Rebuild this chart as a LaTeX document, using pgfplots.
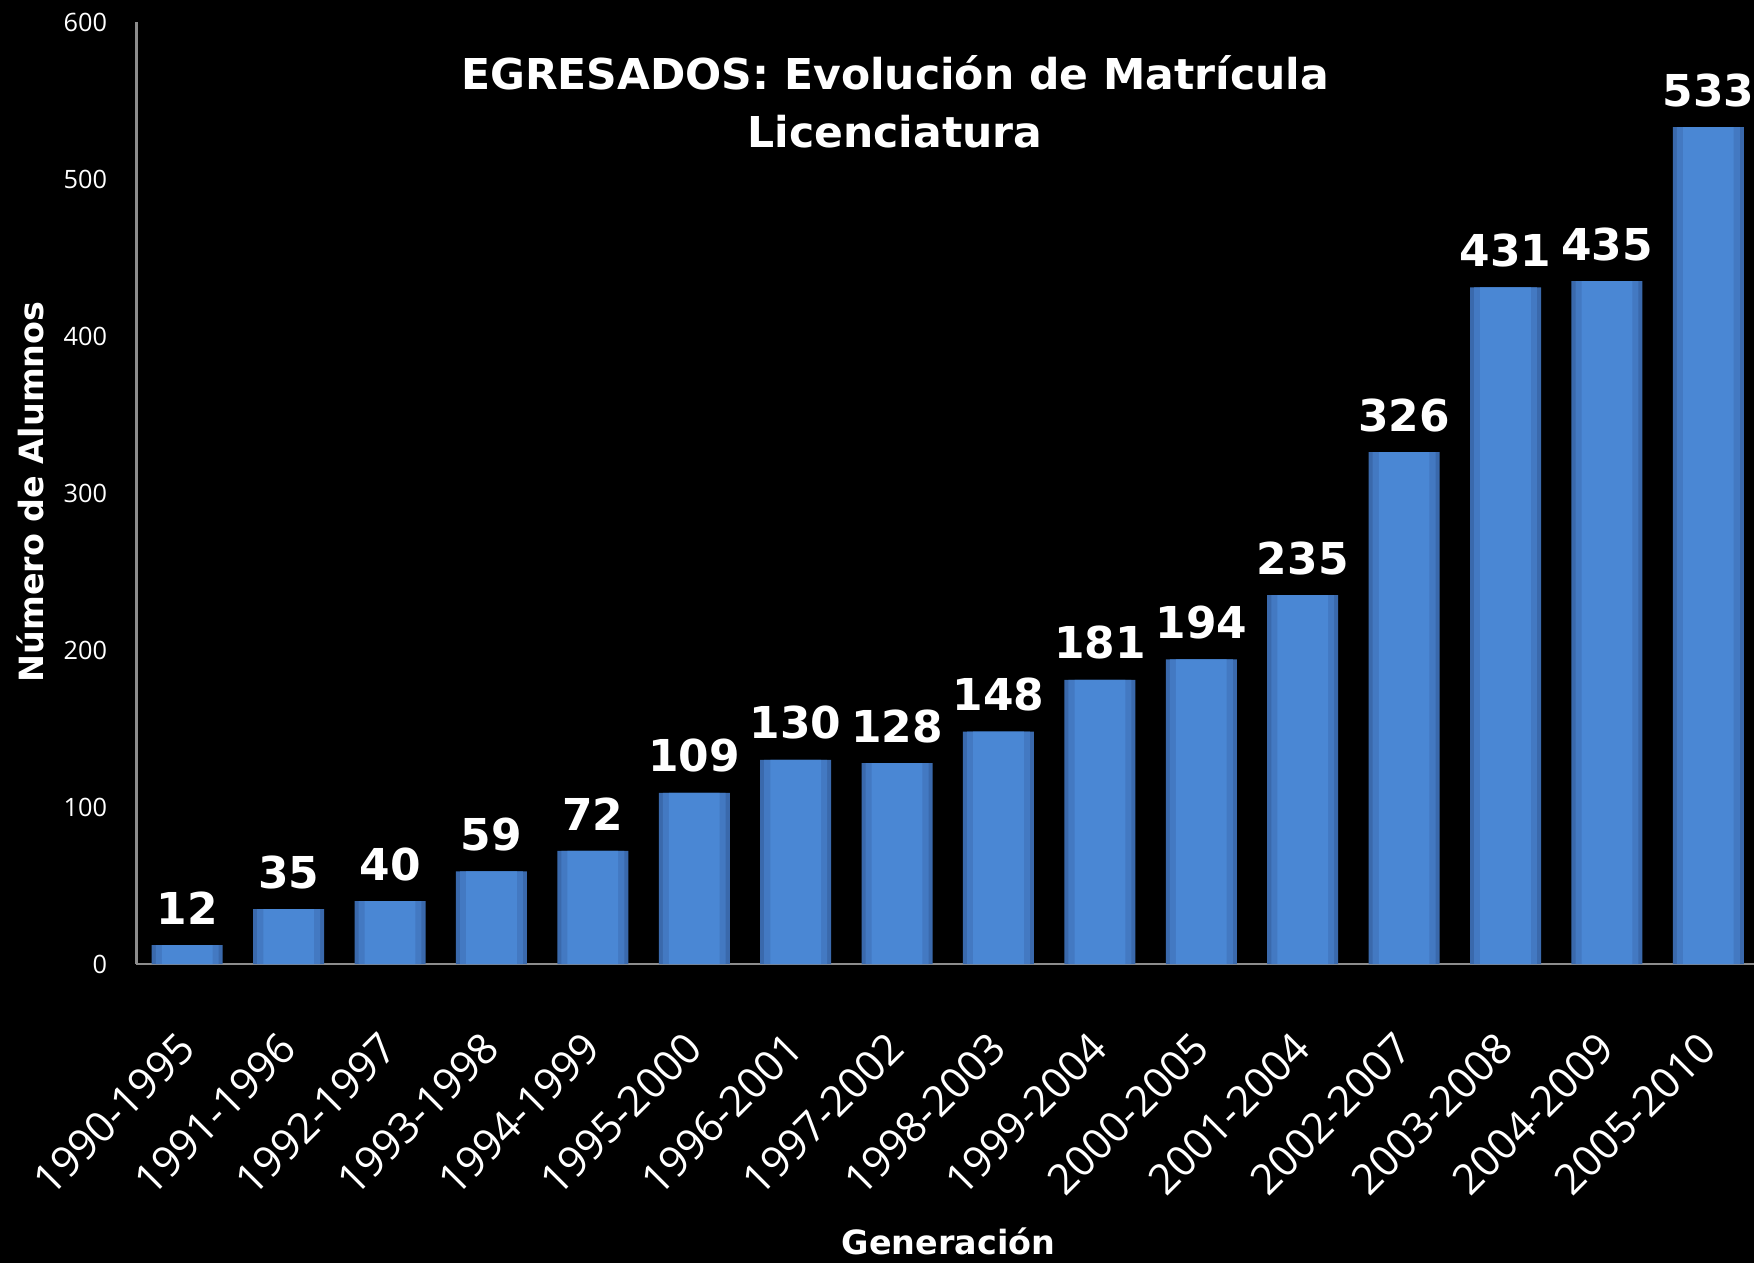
\documentclass[border=0pt]{standalone}
\usepackage{pgfplots}
\pgfplotsset{compat=1.18}
\usepackage{fontspec}
\setmainfont{Open Sans}
\newfontfamily\verd{DejaVu Sans}

\definecolor{barmid}{HTML}{4A87D4}
\definecolor{barin}{HTML}{4379C2}
\definecolor{barside}{HTML}{3A69AC}
\definecolor{axgray}{HTML}{8C8C8C}

\pgfplotstableread{
x y
0 12
1 35
2 40
3 59
4 72
5 109
6 130
7 128
8 148
9 181
10 194
11 235
12 326
13 431
14 435
15 533
}\egresados

\begin{document}
\begin{tikzpicture}
% page = 1754 x 1263 px, 1 px = 0.1 mm; axis box starts at (0,0)
\path[fill=black, use as bounding box] (-13.65mm,-29.9mm) rectangle (161.75mm,96.4mm);
\begin{axis}[
  at={(0,0)}, anchor=south west,
  scale only axis,
  width=161.75mm, height=94.2mm,
  xmin=-0.5, xmax=15.45,
  ymin=0, ymax=600,
  axis x line*=bottom,
  axis y line*=left,
  axis line style={-, draw=axgray, line width=0.6pt},
  major tick length=0pt,
  /pgf/number format/assume math mode=true,
  ytick={0,100,...,600},
  xtick={0,...,15},
  xticklabels={1990-1995,1991-1996,1992-1997,1993-1998,1994-1999,1995-2000,1996-2001,1997-2002,1998-2003,1999-2004,2000-2005,2001-2004,2002-2007,2003-2008,2004-2009,2005-2010},
  yticklabel style={font=\fontsize{7.2}{8}\selectfont, text=white, xshift=-1.7mm},
  xticklabel style={font=\fontsize{12}{14}\selectfont, text=white, xshift=0.8mm, yshift=-6.8mm, rotate=45, anchor=east},
  clip=false,
  ybar, bar shift=0pt,
]
% outer (darker edge) bar
\addplot[draw=none, fill=barside, bar width=0.7] table {\egresados};
% inner layers to mimic the bevelled gradient
\addplot[draw=none, fill=barin, bar width=0.62] table {\egresados};
\addplot[draw=none, fill=barmid, bar width=0.5,
  nodes near coords,
  every node near coord/.append style={font=\verd\bfseries\fontsize{12.5}{14}\selectfont, text=white, yshift=0.8mm},
] table {\egresados};
\node[font=\verd\bfseries\fontsize{12.1}{16.5}\selectfont, align=center, text=white]
  at (rel axis cs:0.469,0.915) {EGRESADOS: Evolución de Matrícula\\Licenciatura};
\end{axis}
\node[rotate=90, font=\verd\bfseries\fontsize{9.5}{11}\selectfont, text=white] at (-10.65mm,47.2mm) {Número de Alumnos};
\node[font=\verd\bfseries\fontsize{9.5}{11}\selectfont, text=white] at (81.2mm,-27.76mm) {Generación};
\end{tikzpicture}
\end{document}
